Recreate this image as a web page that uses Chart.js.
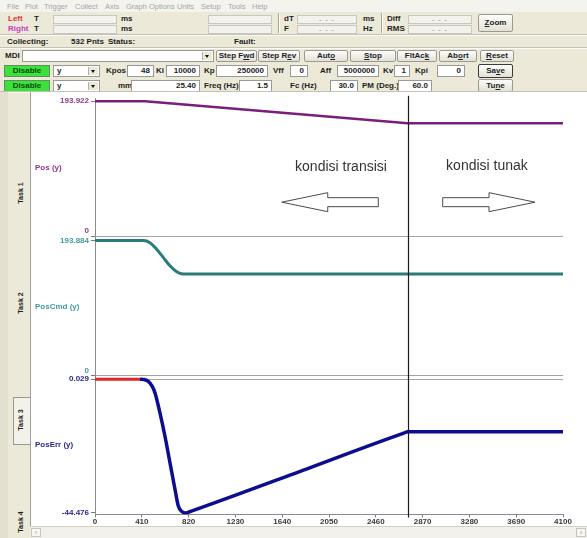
<!DOCTYPE html>
<html>
<head>
<meta charset="utf-8">
<title>Task plot</title>
<script src="https://cdn.jsdelivr.net/npm/chart.js@4.4.1/dist/chart.umd.min.js"></script>
<style>
  html, body { margin:0; padding:0; background:#ece9d8; }
  #win { position:relative; width:587px; height:538px; overflow:hidden; background:#ece9d8;
         font-family:"Liberation Sans", Arial, sans-serif; font-size:8px; font-weight:bold; color:#1e1e1e; }
  .t { position:absolute; white-space:nowrap; line-height:10px; }
  .menu { position:absolute; left:0; top:0; width:587px; height:12px; background:#f4f3ee; }
  .menu span { position:absolute; top:2px; font-weight:normal; font-size:7.5px; color:#a6a6a6; line-height:9px; white-space:nowrap; }
  .fld { position:absolute; box-sizing:border-box; height:9px; background:#f3f2ec; border:1px solid #c9c8c0;
         color:#8a8a8a; font-weight:normal; text-align:center; line-height:7px; font-size:7px; letter-spacing:1px; }
  .in { position:absolute; box-sizing:border-box; height:12px; background:#fff; border:1px solid #9a9a92;
        text-align:right; padding-right:3px; line-height:10px; }
  .btn { position:absolute; box-sizing:border-box; height:12px; border:1px solid #9c9a90; border-radius:2px;
         background:linear-gradient(#fdfdfb,#e3e1d6); text-align:center; line-height:10px; }
  .dis { position:absolute; box-sizing:border-box; width:46px; height:12px; background:#3ae23a; border:1px solid #5f8f5f;
         color:#0f4a0f; text-align:center; line-height:10px; }
  .cmb { position:absolute; box-sizing:border-box; height:12px; background:#fff; border:1px solid #9a9a92;
         padding-left:3px; line-height:10px; }
  .cmb i { position:absolute; right:1px; top:1px; width:9px; height:8px; background:#ece9d8; border-left:1px solid #b0b0a8; }
  .cmb i:after { content:""; position:absolute; left:2px; top:3px; border-left:2.5px solid transparent;
                 border-right:2.5px solid transparent; border-top:3px solid #111; }
  .hr { position:absolute; left:0; width:587px; height:1px; background:#c4c2b6; border-bottom:1px solid #fbfbf7; }
  .vr { position:absolute; width:1px; background:#a8a69a; border-right:1px solid #fbfbf7; }
  #plotbox { position:absolute; left:30px; top:92px; width:557px; height:434px; background:#fff;
             border-left:1px solid #a0a0a0; box-sizing:border-box; }
  #plot { position:absolute; left:30px; top:92px; }
  #edge { position:absolute; left:0; top:92px; width:8px; height:446px; background:#e3e0cf; }
  .tab { position:absolute; left:21px; font-size:7px; line-height:8px; white-space:nowrap;
         transform:translate(-50%,-50%) rotate(-90deg); }
  #tabsel { position:absolute; left:13px; top:397px; width:17px; height:48px; box-sizing:border-box;
            border:1px solid #9a988c; border-right:none; background:#f3f2ea; }
  #scroll { position:absolute; left:30px; top:526px; width:557px; height:12px; background:#f1f0ea;
            border-top:1px solid #d2d0c6; box-sizing:border-box; }
  .sb { position:absolute; top:1px; width:10px; height:9px; box-sizing:border-box; border:1px solid #c8c6bb;
        background:#f7f6f1; color:#9a9a9a; font-size:7px; line-height:7px; text-align:center; font-weight:normal; }
</style>
</head>
<body>
<div id="win">
  <div class="menu">
    <span style="left:7px">File</span><span style="left:25px">Plot</span><span style="left:44px">Trigger</span>
    <span style="left:75px">Collect</span><span style="left:105px">Axis</span><span style="left:126px">Graph Options</span>
    <span style="left:177px">Units</span><span style="left:201px">Setup</span><span style="left:228px">Tools</span>
    <span style="left:252px">Help</span>
  </div>

  <!-- cursor readouts -->
  <div class="t" style="left:8px;top:14px;color:#d23c3c">Left</div>
  <div class="t" style="left:34px;top:14px">T</div>
  <div class="fld" style="left:53px;top:15px;width:64px"></div>
  <div class="t" style="left:121px;top:14px">ms</div>
  <div class="fld" style="left:208px;top:15px;width:64px"></div>
  <div class="vr" style="left:278px;top:13px;height:20px"></div>
  <div class="t" style="left:284px;top:14px">dT</div>
  <div class="fld" style="left:297px;top:15px;width:60px">- - -</div>
  <div class="t" style="left:363px;top:14px">ms</div>
  <div class="vr" style="left:381px;top:13px;height:20px"></div>
  <div class="t" style="left:387px;top:14px">Diff</div>
  <div class="fld" style="left:408px;top:15px;width:64px">- - -</div>
  <div class="btn" style="left:478px;top:14px;width:35px;height:18px;line-height:16px"><u>Z</u>oom</div>

  <div class="t" style="left:8px;top:24px;color:#c23fc2">Right</div>
  <div class="t" style="left:34px;top:24px">T</div>
  <div class="fld" style="left:53px;top:25px;width:64px"></div>
  <div class="t" style="left:121px;top:24px">ms</div>
  <div class="fld" style="left:208px;top:25px;width:64px"></div>
  <div class="t" style="left:284px;top:24px">F</div>
  <div class="fld" style="left:297px;top:25px;width:60px">- - -</div>
  <div class="t" style="left:363px;top:24px">Hz</div>
  <div class="t" style="left:387px;top:24px">RMS</div>
  <div class="fld" style="left:408px;top:25px;width:64px">- - -</div>

  <div class="hr" style="top:34px"></div>
  <div class="t" style="left:7px;top:37px">Collecting:</div>
  <div class="t" style="left:71px;top:37px">532 Pnts</div>
  <div class="t" style="left:108px;top:37px">Status:</div>
  <div class="t" style="left:234px;top:37px">Fault:</div>
  <div class="hr" style="top:47px"></div>

  <!-- command row -->
  <div class="t" style="left:5px;top:51px">MDI</div>
  <div class="cmb" style="left:22px;top:50px;width:192px"><i></i></div>
  <div class="btn" style="left:216px;top:50px;width:41px">Step F<u>w</u>d</div>
  <div class="btn" style="left:258px;top:50px;width:42px">Step R<u>e</u>v</div>
  <div class="btn" style="left:304px;top:50px;width:44px">Aut<u>o</u></div>
  <div class="btn" style="left:350px;top:50px;width:46px"><u>S</u>top</div>
  <div class="btn" style="left:397px;top:50px;width:40px">FltAc<u>k</u></div>
  <div class="btn" style="left:439px;top:50px;width:38px">Ab<u>o</u>rt</div>
  <div class="btn" style="left:480px;top:50px;width:34px"><u>R</u>eset</div>

  <!-- gain row -->
  <div class="dis" style="left:4px;top:65px">Disable</div>
  <div class="cmb" style="left:53px;top:65px;width:47px">y<i></i></div>
  <div class="t" style="left:106px;top:66px">Kpos</div>
  <div class="in" style="left:127px;top:65px;width:27px">48</div>
  <div class="t" style="left:156px;top:66px">Ki</div>
  <div class="in" style="left:166px;top:65px;width:34px">10000</div>
  <div class="t" style="left:204px;top:66px">Kp</div>
  <div class="in" style="left:216px;top:65px;width:52px">250000</div>
  <div class="t" style="left:273px;top:66px">Vff</div>
  <div class="in" style="left:290px;top:65px;width:18px">0</div>
  <div class="t" style="left:320px;top:66px">Aff</div>
  <div class="in" style="left:337px;top:65px;width:42px">5000000</div>
  <div class="t" style="left:383px;top:66px">Kv</div>
  <div class="in" style="left:394px;top:65px;width:16px">1</div>
  <div class="t" style="left:415px;top:66px">Kpi</div>
  <div class="in" style="left:437px;top:65px;width:28px">0</div>
  <div class="btn" style="left:478px;top:64px;width:35px;height:14px;line-height:12px;border-color:#3a3a3a">Sa<u>v</u>e</div>

  <!-- tuning row -->
  <div class="dis" style="left:4px;top:80px">Disable</div>
  <div class="cmb" style="left:53px;top:80px;width:47px">y<i></i></div>
  <div class="t" style="left:118px;top:81px">mm</div>
  <div class="in" style="left:131px;top:80px;width:69px">25.40</div>
  <div class="t" style="left:204px;top:81px">Freq (Hz)</div>
  <div class="in" style="left:239px;top:80px;width:33px">1.5</div>
  <div class="t" style="left:290px;top:81px">Fc (Hz)</div>
  <div class="in" style="left:330px;top:80px;width:28px">30.0</div>
  <div class="t" style="left:362px;top:81px">PM (Deg.)</div>
  <div class="in" style="left:398px;top:80px;width:34px">60.0</div>
  <div class="btn" style="left:478px;top:79px;width:35px;height:13px;line-height:11px">Tu<u>n</u>e</div>
  <div class="hr" style="top:91px"></div>

  <!-- task tabs -->
  <div id="edge"></div>
  <div id="tabsel"></div>
  <div class="tab" style="top:193px">Task 1</div>
  <div class="tab" style="top:303px">Task 2</div>
  <div class="tab" style="top:420px">Task 3</div>
  <div class="tab" style="top:522px">Task 4</div>

  <div id="plotbox"></div>
  <canvas id="plot" width="557" height="434"></canvas>

  <div id="scroll">
    <div class="sb" style="left:1px">&lsaquo;</div>
    <div class="sb" style="right:1px">&rsaquo;</div>
  </div>
</div>

<script>
// Time axis (ms)
const timeTicks = [0, 410, 820, 1230, 1640, 2050, 2460, 2870, 3280, 3690, 4100];

// Pos (y): actual position
const posT = [0, 440, 2740, 4100];
const posV = [193.922, 193.922, 162.2, 162.2];

// PosCmd (y): commanded position
const cmdT = [0, 423, 482, 540, 599, 657, 716, 774, 4100];
const cmdV = [193.884, 193.884, 190.7, 181.3, 169.3, 157.4, 148.8, 145.5, 145.5];

// PosErr (y): following error, hold segment before the move starts
const errHoldT = [0, 394];
const errHoldV = [0.029, 0.029];

// PosErr (y): following error during and after the move
const errT = [394, 430, 467, 500, 526, 569, 613, 657, 701, 730, 760, 797, 850, 1708, 2700, 2740, 4100];
const errV = [0.029, -0.1, -0.7, -2.3, -4.55, -11.2, -18.97, -27.8, -36.7, -42.2, -44.0, -44.476, -43.8, -31.9, -18.0, -17.5, -17.5];

// Labelled limits of each trace
const posTicks = [0, 193.922];
const cmdTicks = [0, 193.884];
const errTicks = [-44.476, 0.029];

const seriesNames = ['Pos (y)', 'PosCmd (y)', 'PosErr (y)'];
const cursorT = 2740;

const notes = [
  { text: 'kondisi transisi', t: 2155, v: 98.7 },
  { text: 'kondisi tunak', t: 3434, v: 100.2 }
];
const arrows = [
  { from: 2482, to: 1636, v: 48.7 },
  { from: 3046, to: 3855, v: 48.7 }
];

const FONT = '"Liberation Sans", Arial, sans-serif';
const colors = { pos: '#7b1e7b', cmd: '#2a7c78', err: '#0d0d8f', hold: '#e3262a' };
const labelColors = { pos: '#8c3a8c', cmd: '#3f9c9a', err: '#28288a' };

const pts = (xs, ys) => xs.map((x, i) => ({ x, y: ys[i] }));

function panelAxis(labelled, color, min, max) {
  // zero gets its own grid line; it is only labelled when it is one of the limits
  const values = labelled.includes(0) ? labelled : [...labelled, 0];
  return {
    type: 'linear', position: 'left', stack: 'panels', stackWeight: 1, min, max,
    afterBuildTicks: s => { s.ticks = values.slice().sort((a, b) => a - b).map(v => ({ value: v })); },
    afterFit: s => { s.width = 65; },
    ticks: {
      autoSkip: false, padding: 2, color,
      font: { family: FONT, size: 8, weight: 'bold' },
      // the zero label sits just above its line, clear of the next panel's top label
      callback: v => (!labelled.includes(v) ? '' : v === 0 ? ['0', ''] : String(v))
    },
    grid: {
      color: c => (c.tick && c.tick.value === 0 ? '#a4a4a4' : 'rgba(0,0,0,0)'),
      tickColor: '#7a7a7a', tickLength: 4, lineWidth: 1
    },
    border: { color: '#8c8c8c', width: 1 }
  };
}

function drawArrow(ctx, x0, x1, y) {
  const dir = Math.sign(x1 - x0);
  const head = 46, sh = 4.5, hh = 9.5;
  const xb = x1 - dir * head;
  ctx.beginPath();
  ctx.moveTo(x0, y - sh);
  ctx.lineTo(xb, y - sh);
  ctx.lineTo(xb, y - hh);
  ctx.lineTo(x1, y);
  ctx.lineTo(xb, y + hh);
  ctx.lineTo(xb, y + sh);
  ctx.lineTo(x0, y + sh);
  ctx.closePath();
  ctx.fillStyle = '#ffffff';
  ctx.fill();
  ctx.strokeStyle = '#4a4a4a';
  ctx.lineWidth = 1;
  ctx.stroke();
}

const overlay = {
  id: 'overlay',
  afterDraw(chart) {
    const { ctx, chartArea, scales } = chart;
    const xs = scales.x, yp = scales.yPos;
    ctx.save();

    // trace names, written level to the left of each panel
    const axes = [['yPos', labelColors.pos], ['yCmd', labelColors.cmd], ['yErr', labelColors.err]];
    ctx.font = 'bold 8px ' + FONT;
    ctx.textAlign = 'left';
    ctx.textBaseline = 'middle';
    axes.forEach(([id, col], i) => {
      const s = scales[id];
      ctx.fillStyle = col;
      ctx.fillText(seriesNames[i], 5, (s.top + s.bottom) / 2);
    });

    // time cursor
    const cx = Math.round(xs.getPixelForValue(cursorT)) + 0.5;
    ctx.strokeStyle = '#1a1a1a';
    ctx.lineWidth = 1.2;
    ctx.beginPath();
    ctx.moveTo(cx, chartArea.top - 3);
    ctx.lineTo(cx, chartArea.bottom + 3);
    ctx.stroke();

    // phase notes
    ctx.font = '14px ' + FONT;
    ctx.fillStyle = '#333333';
    ctx.textAlign = 'center';
    notes.forEach(n => ctx.fillText(n.text, xs.getPixelForValue(n.t), yp.getPixelForValue(n.v)));
    arrows.forEach(a => drawArrow(ctx, xs.getPixelForValue(a.from), xs.getPixelForValue(a.to), yp.getPixelForValue(a.v)));

    ctx.restore();
  }
};

new Chart(document.getElementById('plot'), {
  type: 'line',
  data: {
    datasets: [
      { label: seriesNames[0], data: pts(posT, posV), yAxisID: 'yPos', borderColor: colors.pos, borderWidth: 2.5, tension: 0 },
      { label: seriesNames[1], data: pts(cmdT, cmdV), yAxisID: 'yCmd', borderColor: colors.cmd, borderWidth: 3, cubicInterpolationMode: 'monotone' },
      { label: seriesNames[2], data: pts(errT, errV), yAxisID: 'yErr', borderColor: colors.err, borderWidth: 3.5, cubicInterpolationMode: 'monotone' },
      { label: seriesNames[2] + ' hold', data: pts(errHoldT, errHoldV), yAxisID: 'yErr', borderColor: colors.hold, borderWidth: 3, tension: 0 }
    ]
  },
  options: {
    responsive: false,
    animation: false,
    events: [],
    layout: { padding: { top: 5, right: 24, left: 0, bottom: 0 } },
    elements: { point: { radius: 0 }, line: { borderJoinStyle: 'round' } },
    plugins: { legend: { display: false }, tooltip: { enabled: false } },
    scales: {
      x: {
        type: 'linear', min: 0, max: 4100,
        afterBuildTicks: s => { s.ticks = timeTicks.map(v => ({ value: v })); },
        afterFit: s => { s.height = 11; },
        ticks: { autoSkip: false, maxRotation: 0, padding: 0, color: '#3a3a3a',
                 font: { family: FONT, size: 8, weight: 'bold' }, callback: v => String(v) },
        grid: { drawOnChartArea: false, tickLength: 3, tickColor: '#7a7a7a' },
        border: { color: '#8c8c8c', width: 1 }
      },
      yErr: panelAxis(errTicks, labelColors.err, -44.97, 1.131),
      yCmd: panelAxis(cmdTicks, labelColors.cmd, -0.96, 198.42),
      yPos: panelAxis(posTicks, labelColors.pos, -1.90, 197.50)
    }
  },
  plugins: [overlay]
});
</script>
</body>
</html>
